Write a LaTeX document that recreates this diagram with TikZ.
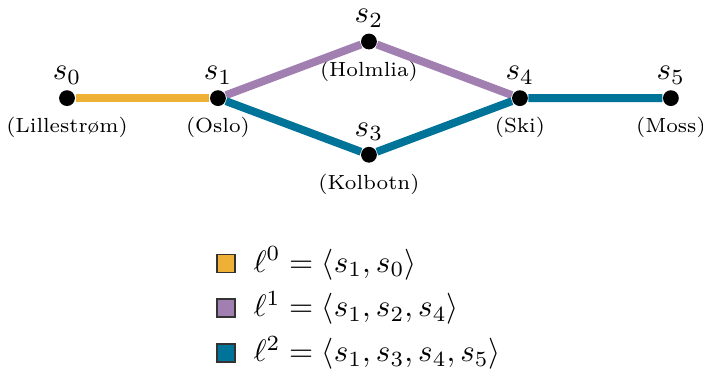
\documentclass[tikz,border=0pt]{standalone}
\usepackage{amsmath,amssymb}
\usepackage{xcolor}
\usepackage{tikz}
\usetikzlibrary{positioning}
\definecolor{LineOrange}{RGB}{239,176,54}
\definecolor{LinePurple}{RGB}{161,128,177}
\definecolor{LineBlue}{RGB}{0,115,152}

\begin{document}
\begin{tikzpicture}[
  x=1.07cm, y=1.07cm,
  stop/.style={circle, fill=black, inner sep=0pt, minimum size=5.1pt,
    label distance=1pt},
  stopname/.style={yshift=-1.8pt},
  place/.style={font=\fontsize{6.6pt}{8pt}\selectfont},
  route/.style={line width=2.55pt},
  key/.style={draw=black!80, line width=0.4pt, minimum size=5.8pt, inner sep=0pt}
]
\useasboundingbox (-0.71,1.04) rectangle (6.74,-3.0);

\node[stop, label={[stopname]above:$s_0$}, label={[place]below:(Lillestrøm)}] (s0) at (0,0) {};
\node[stop, label={[stopname]above:$s_1$}, label={[place]below:(Oslo)}] (s1) at (1.6,0) {};
\node[stop, label={[stopname]above:$s_2$}, label={[place]below:(Holmlia)}] (s2) at (3.2,0.6) {};
\node[stop, label={[stopname]above:$s_3$}, label={[place]below:(Kolbotn)}] (s3) at (3.2,-0.6) {};
\node[stop, label={[stopname]above:$s_4$}, label={[place]below:(Ski)}] (s4) at (4.8,0) {};
\node[stop, label={[stopname]above:$s_5$}, label={[place]below:(Moss)}] (s5) at (6.4,0) {};

\draw[route, LineOrange] (s1) -- (s0);
\draw[route, LinePurple] (s1) -- (s2) -- (s4);
\draw[route, LineBlue] (s1) -- (s3) -- (s4) -- (s5);

\node[key, fill=LineOrange] (k0) at (1.685,-1.75) {};
\node[key, fill=LinePurple] (k1) at (1.685,-2.225) {};
\node[key, fill=LineBlue] (k2) at (1.685,-2.70) {};
\node[right=0.8mm of k0] (t0) {$\ell^0 = \langle s_1, s_0\rangle$};
\node[right=0.8mm of k1] (t1) {$\ell^1 = \langle s_1, s_2, s_4\rangle$};
\node[right=0.8mm of k2] (t2) {$\ell^2 = \langle s_1, s_3, s_4, s_5\rangle$};
\end{tikzpicture}
\end{document}
